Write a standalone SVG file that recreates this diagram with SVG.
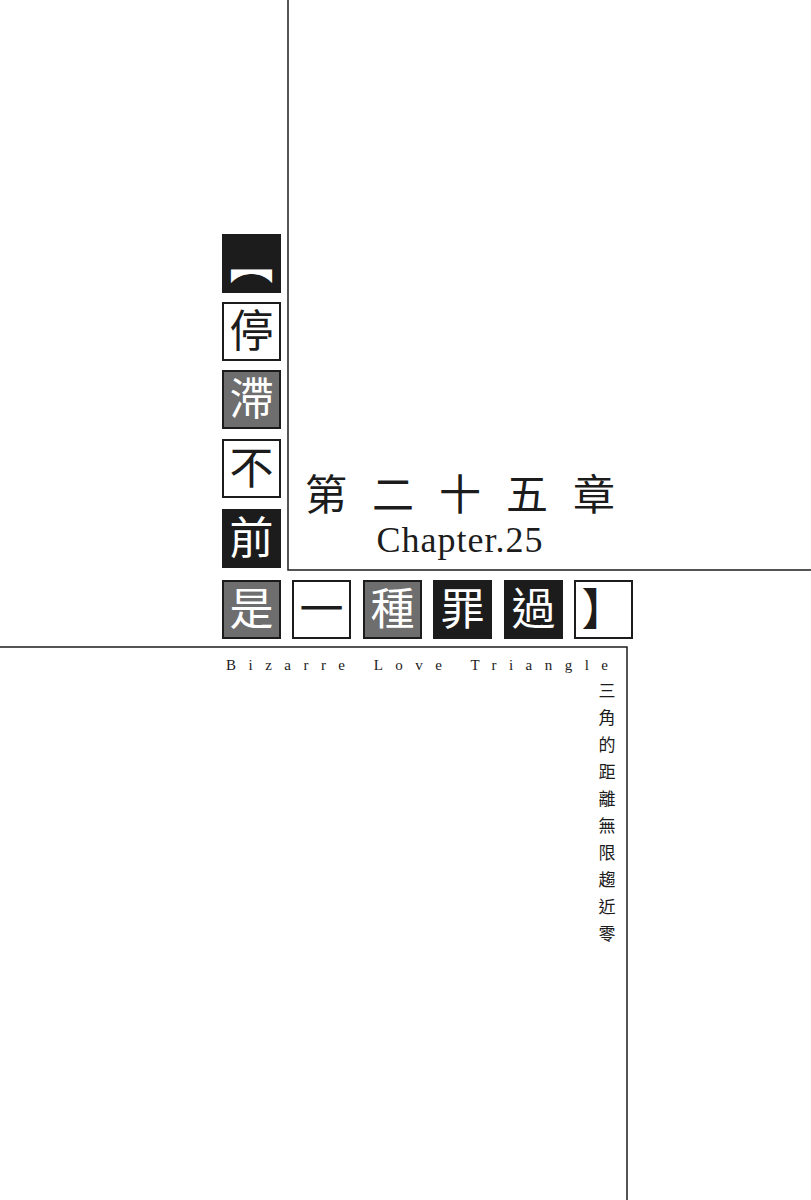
<svg xmlns="http://www.w3.org/2000/svg" width="811" height="1200" viewBox="0 0 811 1200">
<style>
.b{fill:#1c1c1c;stroke:#1c1c1c;stroke-width:2}
.g{fill:#6e6e6e;stroke:#1c1c1c;stroke-width:2}
.w{fill:#fff;stroke:#1c1c1c;stroke-width:2}
.k{font-family:"Noto Sans CJK TC",serif;font-size:44px;text-anchor:middle}
.kw{fill:#fff}.kb{fill:#1c1c1c}
.ln{stroke:#1c1c1c;stroke-width:1.5;fill:none}
</style>
<rect width="811" height="1200" fill="#fff"/>
<g id="frames">
<polyline class="ln" points="288,0 288,570 811,570"/>
<polyline class="ln" points="0,647 627,647 627,1200"/>
</g>
<g id="col">
<rect class="b" x="223" y="235" width="57" height="57"/><text class="k kw" x="251.5" y="279">︻</text>
<rect class="w" x="223" y="303" width="57" height="57"/><text class="k kb" x="251.5" y="347">停</text>
<rect class="g" x="223" y="371" width="57" height="57"/><text class="k kw" x="251.5" y="415">滯</text>
<rect class="w" x="223" y="440" width="57" height="57"/><text class="k kb" x="251.5" y="484">不</text>
<rect class="b" x="223" y="510" width="57" height="57"/><text class="k kw" x="251.5" y="554">前</text>
</g>
<g id="row">
<rect class="g" x="223" y="581" width="57" height="57"/><text class="k kw" x="251.5" y="625">是</text>
<rect class="w" x="293" y="581" width="57" height="57"/><text class="k kb" x="321.5" y="625">一</text>
<rect class="g" x="364" y="581" width="57" height="57"/><text class="k kw" x="392.5" y="625">種</text>
<rect class="b" x="434" y="581" width="57" height="57"/><text class="k kw" x="462.5" y="625">罪</text>
<rect class="b" x="505" y="581" width="57" height="57"/><text class="k kw" x="533.5" y="625">過</text>
<rect class="w" x="575" y="581" width="57" height="57"/><text class="k kb" x="603.5" y="625">】</text>
</g>
<g id="title">
<text x="305" y="510" font-family="Noto Sans CJK TC,serif" font-size="42" fill="#1c1c1c" textLength="310" lengthAdjust="spacing">第二十五章</text>
<text x="460" y="552" font-family="Liberation Serif,serif" font-size="36" fill="#1c1c1c" text-anchor="middle" letter-spacing="1">Chapter.25</text>
<text x="226" y="670" font-family="Liberation Serif,serif" font-size="15" fill="#1c1c1c" textLength="382" lengthAdjust="spacing">Bizarre Love Triangle</text>
</g>
<g id="vert" font-family="Noto Sans CJK TC,serif" font-size="17" fill="#1c1c1c" text-anchor="middle">
<text x="607" y="697">三</text><text x="607" y="724">角</text><text x="607" y="751">的</text>
<text x="607" y="778">距</text><text x="607" y="805">離</text><text x="607" y="832">無</text>
<text x="607" y="859">限</text><text x="607" y="886">趨</text><text x="607" y="913">近</text>
<text x="607" y="940">零</text>
</g>
</svg>
